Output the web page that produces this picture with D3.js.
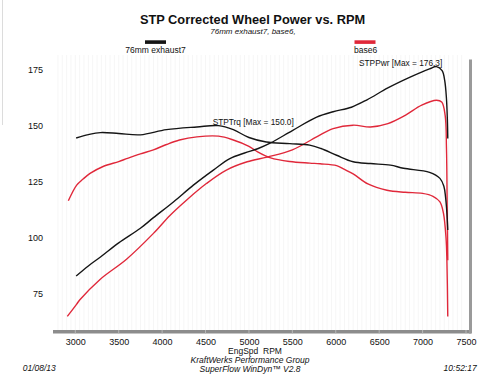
<!DOCTYPE html>
<html><head><meta charset="utf-8">
<script src="https://cdn.jsdelivr.net/npm/d3@7"></script>
<style>
body{margin:0;background:#fff;}
svg{display:block;font-family:"Liberation Sans",Arial,sans-serif;}
</style></head><body>
<svg id="c" width="500" height="386"></svg>
<script>
// ---- data ----
const xTicks = [3000,3500,4000,4500,5000,5500,6000,6500,7000,7500];
const yTicks = [75,100,125,150,175];
const seriesNames = ["76mm exhaust7","base6"];
const seriesColors = ["#151515","#e0283a"];
// rpm, value
const exhaust7Torque = [[3010,144.5],[3150,146],[3290,146.9],[3500,146.5],[3750,145.9],[4050,148.2],[4400,149.4],[4650,150.0],[4820,148.2],[5000,144.7],[5200,142.7],[5470,142.0],[5700,141.3],[5830,139.8],[6010,136.8],[6200,133.9],[6400,133.1],[6630,132.4],[6780,131.0],[7080,129.2],[7200,126.5],[7245,123],[7265,118],[7280,111],[7290,103.5]];
const exhaust7Power = [[3010,83],[3150,87.5],[3290,91.5],[3500,97.8],[3750,104.3],[3900,109],[4130,116],[4360,123.5],[4590,130.2],[4780,135.3],[4950,137.8],[5100,139.7],[5250,142.3],[5500,147.8],[5780,153.8],[5970,156.2],[6180,158.2],[6360,161.5],[6600,166.8],[6850,171.5],[7080,175.3],[7160,176.3],[7225,174.5],[7255,170],[7275,162],[7285,153],[7290,144.3]];
const base6Torque = [[2920,116.5],[3016,123.5],[3090,126.2],[3170,128.7],[3320,131.8],[3500,134],[3600,135.4],[3750,137.4],[3900,139.2],[4050,141.6],[4200,143.6],[4400,145],[4650,145.3],[4820,143.6],[5000,140.8],[5100,138.3],[5250,135.6],[5470,134],[5700,133.3],[5820,133],[6010,132.2],[6100,130.5],[6200,128.5],[6370,124],[6590,121.2],[6800,120.3],[7000,119.8],[7120,118.5],[7200,116],[7240,111],[7270,100],[7280,90],[7290,65]];
const base6Power = [[2908,65],[3016,70.5],[3050,72.3],[3285,81.5],[3590,90.5],[3900,102],[4090,110],[4280,116.8],[4510,124.2],[4740,130.2],[4980,133.9],[5210,136],[5500,139.2],[5780,145],[5970,148.7],[6200,150.2],[6400,149.4],[6600,150.9],[6800,154.6],[6990,159.1],[7160,161.3],[7220,160.5],[7260,154.6],[7275,140],[7283,115],[7290,90]];
const gridRpm = d3.range(2800, 7451, 50);

// ---- chart ----
const svg = d3.select("#c");
const x = d3.scaleLinear().domain([3000,7500]).range([75.3,466]);
const y = d3.scaleLinear().domain([75,175]).range([294,69.5]);

// faint left scan edge
svg.append("line").attr("x1",2.5).attr("x2",2.5).attr("y1",0).attr("y2",125)
  .attr("stroke","#dcdcdc").attr("stroke-width",1);

// faint vertical grid
svg.append("g").selectAll("line").data(gridRpm).join("line")
  .attr("x1",d=>x(d)).attr("x2",d=>x(d)).attr("y1",55).attr("y2",330)
  .attr("stroke","#f6f6f6").attr("stroke-width",1);

// bottom bar and right bar
svg.append("rect").attr("x",53).attr("y",330).attr("width",418).attr("height",3.5).attr("fill","#8c8c8c");
svg.append("rect").attr("x",469).attr("y",59.5).attr("width",3).attr("height",274).attr("fill","#9a9a9a");
svg.append("g").selectAll("line").data(xTicks).join("line")
  .attr("x1",d=>x(d)).attr("x2",d=>x(d)).attr("y1",330).attr("y2",333.5)
  .attr("stroke","#b8b8b8").attr("stroke-width",1);

// axes
const ya = svg.append("g").attr("transform","translate(46,0)")
  .call(d3.axisLeft(y).tickValues(yTicks).tickSize(0).tickPadding(3));
ya.select(".domain").remove();
ya.selectAll("text").attr("font-size",9).attr("fill","#111").attr("font-family","Liberation Sans, Arial, sans-serif");

const xa = svg.append("g").attr("transform","translate(0,333)")
  .call(d3.axisBottom(x).tickValues(xTicks).tickSize(0).tickPadding(5.5).tickFormat(d3.format("d")));
xa.select(".domain").remove();
xa.selectAll("text").attr("font-size",9).attr("fill","#111").attr("font-family","Liberation Sans, Arial, sans-serif");

// lines
const line = d3.line().x(d=>x(d[0])).y(d=>y(d[1])).curve(d3.curveCatmullRom.alpha(0.5));
const series = [
  {data: base6Torque, c: seriesColors[1]},
  {data: base6Power, c: seriesColors[1]},
  {data: exhaust7Torque, c: seriesColors[0]},
  {data: exhaust7Power, c: seriesColors[0]}
];
svg.append("g").selectAll("path").data(series).join("path")
  .attr("d",d=>line(d.data)).attr("fill","none")
  .attr("stroke",d=>d.c).attr("stroke-width",1.4).attr("stroke-linejoin","round");

// titles
svg.append("text").attr("x",252.5).attr("y",24.3).attr("text-anchor","middle")
  .attr("font-size",12.8).attr("font-weight","bold").attr("fill","#111")
  .text("STP Corrected Wheel Power vs. RPM");
svg.append("text").attr("x",253).attr("y",34.2).attr("text-anchor","middle")
  .attr("font-size",8).attr("font-style","italic").attr("fill","#111")
  .text("76mm exhaust7, base6,");

// legend
const legX = [155.5, 365];
svg.append("g").selectAll("rect").data(seriesNames).join("rect")
  .attr("x",(d,i)=>legX[i]-10.5).attr("y",40.3).attr("width",21).attr("height",3.6)
  .attr("fill",(d,i)=>seriesColors[i]);
svg.append("g").selectAll("text").data(seriesNames).join("text")
  .attr("x",(d,i)=> i===0 ? legX[i] : 354).attr("y",53)
  .attr("text-anchor",(d,i)=> i===0 ? "middle" : "start")
  .attr("font-size",8.5).attr("fill","#111").text(d=>d);

// annotations
svg.append("text").attr("x",359).attr("y",65.7).attr("font-size",8.3).attr("fill","#111")
  .text("STPPwr [Max = 176.3]");
svg.append("text").attr("x",212.7).attr("y",124.8).attr("font-size",8.3).attr("fill","#111")
  .text("STPTrq [Max = 150.0]");

// x label and footer
svg.append("text").attr("x",255).attr("y",354).attr("text-anchor","middle")
  .attr("font-size",8.5).attr("fill","#111").attr("xml:space","preserve").text("EngSpd  RPM");
svg.append("text").attr("x",250).attr("y",363).attr("text-anchor","middle")
  .attr("font-size",8.5).attr("font-style","italic").attr("fill","#111").text("KraftWerks Performance Group");
svg.append("text").attr("x",250).attr("y",371.7).attr("text-anchor","middle")
  .attr("font-size",8.5).attr("font-style","italic").attr("fill","#111").text("SuperFlow WinDyn\u2122 V2.8");
svg.append("text").attr("x",22.7).attr("y",370.7)
  .attr("font-size",8.5).attr("font-style","italic").attr("fill","#111").text("01/08/13");
svg.append("text").attr("x",476.7).attr("y",370.7).attr("text-anchor","end")
  .attr("font-size",8.5).attr("font-style","italic").attr("fill","#111").text("10:52:17");
</script>
</body></html>
